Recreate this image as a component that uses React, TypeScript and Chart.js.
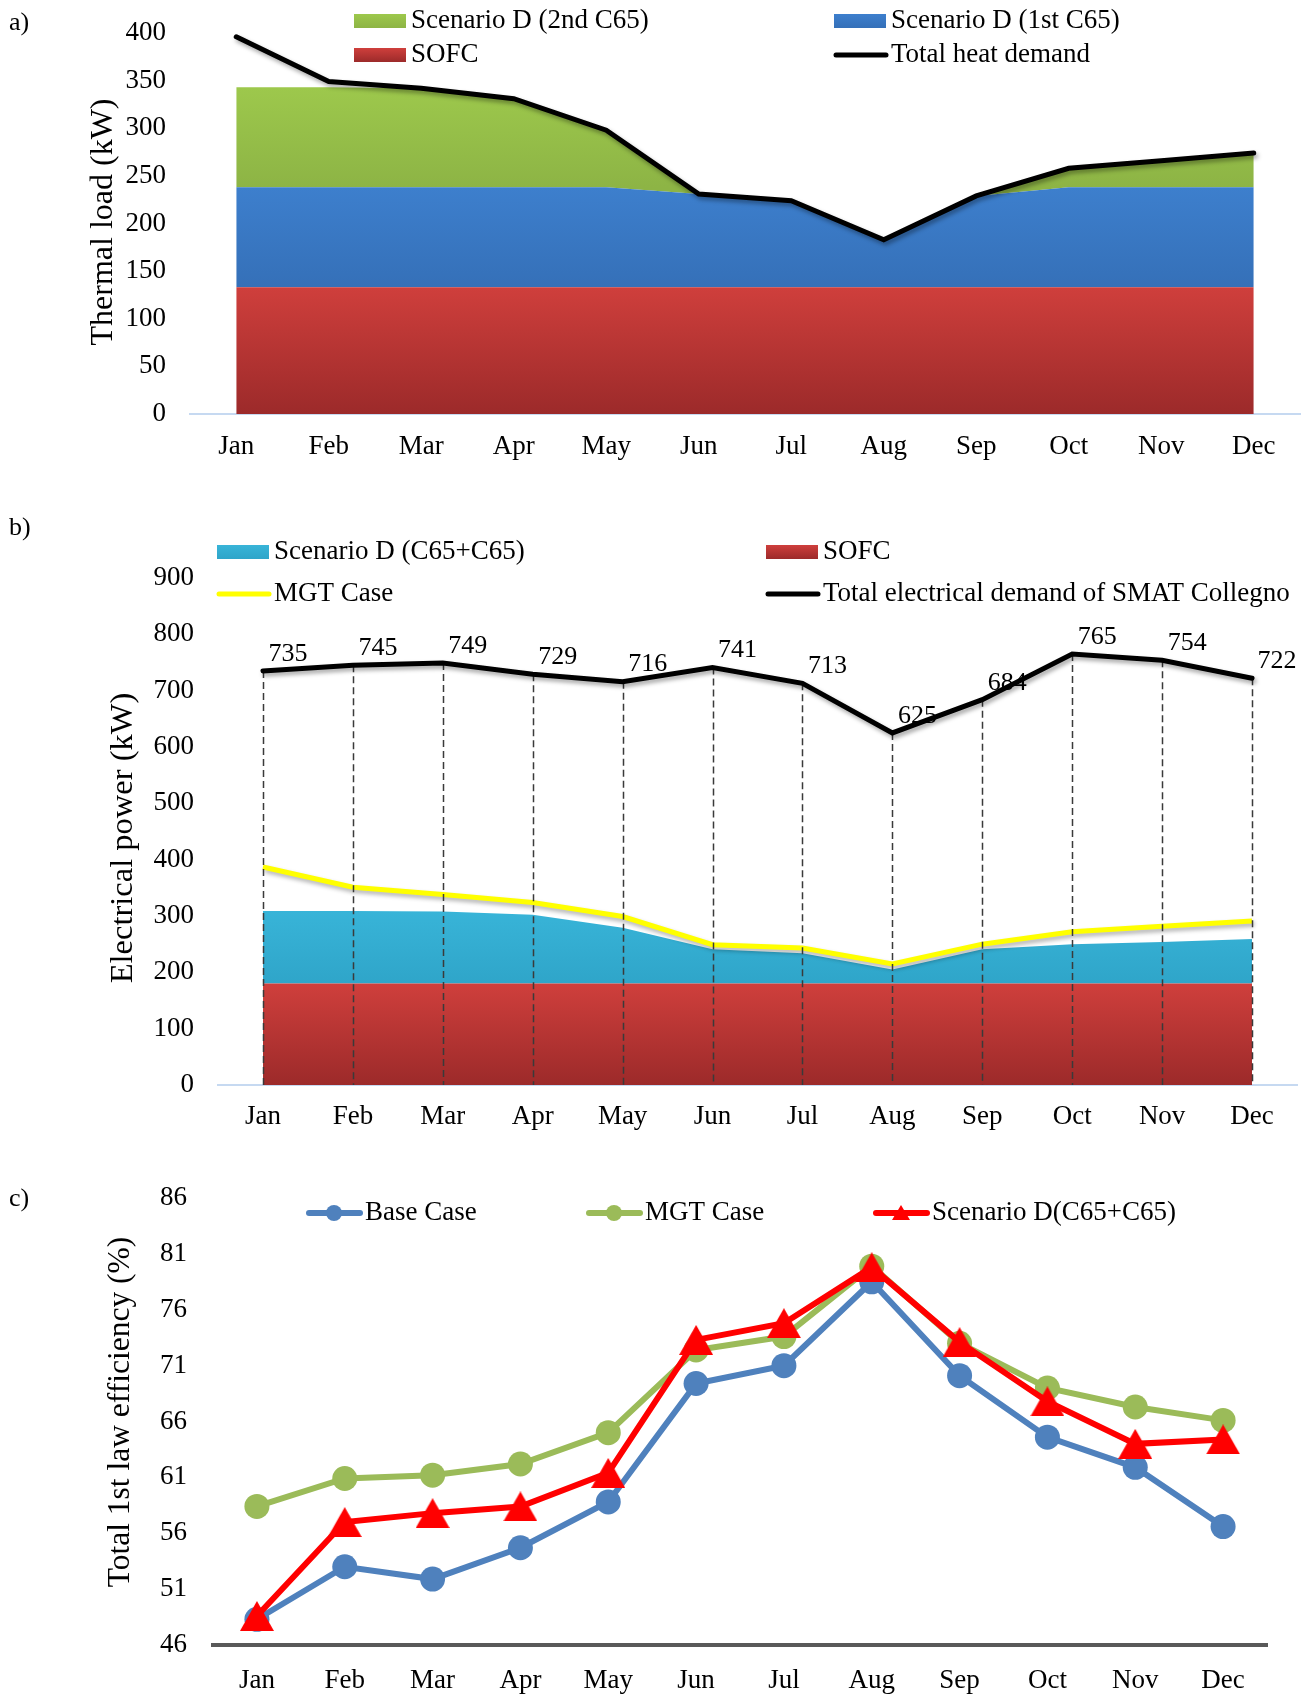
import React, { useEffect, useRef } from "react";
import { Chart, registerables } from "chart.js";

Chart.register(...registerables);

const SERIF = "'Liberation Serif', 'Times New Roman', serif";
const INK = "#000000";

const MONTHS = ["Jan", "Feb", "Mar", "Apr", "May", "Jun", "Jul", "Aug", "Sep", "Oct", "Nov", "Dec"];

// a) Thermal load (kW)
const HEAT_SOFC = [133, 133, 133, 133, 133, 133, 133, 133, 133, 133, 133, 133];
const HEAT_C65_1ST = [105, 105, 105, 105, 105, 98, 91, 50, 96, 105, 105, 105];
const HEAT_C65_2ND = [105, 105, 104, 93, 60, 0, 0, 0, 0, 20, 28, 36];
const HEAT_DEMAND = [396, 349, 342, 331, 298, 231, 224, 183, 229, 258, 266, 274];
const HEAT_AXIS = { min: 0, max: 400, step: 50 };

// b) Electrical power (kW)
const ELEC_SOFC = [180, 180, 180, 180, 180, 180, 180, 180, 180, 180, 180, 180];
const ELEC_C65_PAIR = [129, 129, 128, 122, 99, 61, 54, 25, 61, 70, 74, 79];
const ELEC_MGT = [387, 351, 338, 324, 299, 249, 243, 215, 250, 272, 282, 291];
const ELEC_DEMAND = [735, 745, 749, 729, 716, 741, 713, 625, 684, 765, 754, 722];
const ELEC_AXIS = { min: 0, max: 900, step: 100 };

// c) Total 1st law efficiency (%)
const EFF_BASE = [48.3, 53.0, 51.9, 54.7, 58.8, 69.4, 71.0, 78.5, 70.1, 64.6, 61.9, 56.6];
const EFF_MGT = [58.4, 60.9, 61.2, 62.2, 65.0, 72.4, 73.6, 79.9, 73.0, 69.0, 67.3, 66.1];
const EFF_SCEN_D = [48.6, 57.0, 57.8, 58.4, 61.4, 73.3, 74.8, 79.8, 73.1, 67.8, 64.0, 64.4];
const EFF_AXIS = { min: 46, max: 86, step: 5 };

const RED = { top: "#cf3f3c", bottom: "#9c2a2a" };
const BLUE = { top: "#3d7fcd", bottom: "#3570b8" };
const GREEN = { top: "#9dc84c", bottom: "#8db445" };
const CYAN = { top: "#38b4d8", bottom: "#2fa5c9" };

const WIDTH = 1309;
const TICK_SIZE = 27;
const LEGEND_SIZE = 27;

const sum = (...rows: number[][]) => rows[0].map((_, i) => rows.reduce((s, r) => s + r[i], 0));

// Vertical gradient spanning a stacked band between two value levels
function bandFill(colors: { top: string; bottom: string }, upper: number, lower: number) {
  return (c: any) => {
    const chart = c.chart;
    const y = chart.scales?.y;
    if (!chart.chartArea || !y) return colors.top;
    const g = chart.ctx.createLinearGradient(0, y.getPixelForValue(upper), 0, y.getPixelForValue(lower));
    g.addColorStop(0, colors.top);
    g.addColorStop(1, colors.bottom);
    return g;
  };
}

function triangleImage(w: number, h: number, color: string) {
  const cv = document.createElement("canvas");
  cv.width = w;
  cv.height = h;
  const ctx = cv.getContext("2d")!;
  ctx.fillStyle = color;
  ctx.beginPath();
  ctx.moveTo(w / 2, 0);
  ctx.lineTo(w, h);
  ctx.lineTo(0, h);
  ctx.closePath();
  ctx.fill();
  return cv;
}

type LegendItem =
  | { kind: "band"; x: number; y: number; text: string; colors: { top: string; bottom: string } }
  | { kind: "line"; x: number; y: number; text: string; color: string; width: number }
  | { kind: "marker"; x: number; y: number; text: string; color: string; marker: "circle" | "triangle" };

type AxisTitle = { text: string; x: number; y: number; size: number };

// Panel letter, rotated value-axis title and legend drawn onto the chart canvas
function decorations(letter: string, letterY: number, title: AxisTitle, items: LegendItem[]) {
  return {
    id: "decorations",
    afterDraw(chart: any) {
      const ctx: CanvasRenderingContext2D = chart.ctx;
      ctx.save();
      ctx.fillStyle = INK;
      ctx.textBaseline = "middle";

      ctx.font = `26px ${SERIF}`;
      ctx.textAlign = "left";
      ctx.fillText(letter, 9, letterY);

      ctx.save();
      ctx.translate(title.x, title.y);
      ctx.rotate(-Math.PI / 2);
      ctx.textAlign = "center";
      ctx.font = `${title.size}px ${SERIF}`;
      ctx.fillText(title.text, 0, 0);
      ctx.restore();

      ctx.font = `${LEGEND_SIZE}px ${SERIF}`;
      ctx.textAlign = "left";
      for (const it of items) {
        const sw = 52;
        if (it.kind === "band") {
          const g = ctx.createLinearGradient(0, it.y - 7, 0, it.y + 7);
          g.addColorStop(0, it.colors.top);
          g.addColorStop(1, it.colors.bottom);
          ctx.fillStyle = g;
          ctx.fillRect(it.x, it.y - 7, sw, 14);
        } else if (it.kind === "line") {
          ctx.strokeStyle = it.color;
          ctx.lineWidth = it.width;
          ctx.lineCap = "round";
          ctx.beginPath();
          ctx.moveTo(it.x + 2, it.y);
          ctx.lineTo(it.x + sw, it.y);
          ctx.stroke();
        } else {
          ctx.strokeStyle = it.color;
          ctx.lineWidth = 6;
          ctx.lineCap = "round";
          ctx.beginPath();
          ctx.moveTo(it.x + 3, it.y);
          ctx.lineTo(it.x + 54, it.y);
          ctx.stroke();
          ctx.fillStyle = it.color;
          const cx = it.x + 28;
          if (it.marker === "circle") {
            ctx.beginPath();
            ctx.arc(cx, it.y, 8, 0, Math.PI * 2);
            ctx.fill();
          } else {
            ctx.beginPath();
            ctx.moveTo(cx, it.y - 8);
            ctx.lineTo(cx + 9, it.y + 7);
            ctx.lineTo(cx - 9, it.y + 7);
            ctx.closePath();
            ctx.fill();
          }
        }
        ctx.fillStyle = INK;
        const tx = it.kind === "marker" ? it.x + 59 : it.x + sw + 5;
        ctx.fillText(it.text, tx, it.y);
      }
      ctx.restore();
    },
  };
}

// Soft drop shadow under datasets flagged with shadowColor
const lineShadow = {
  id: "lineShadow",
  beforeDatasetDraw(chart: any, args: any) {
    const ds = chart.data.datasets[args.index];
    if (!ds.shadowColor) return;
    const ctx = chart.ctx;
    ctx.save();
    ctx.shadowColor = ds.shadowColor;
    ctx.shadowBlur = 4;
    ctx.shadowOffsetX = 2;
    ctx.shadowOffsetY = 3;
  },
  afterDatasetDraw(chart: any, args: any) {
    const ds = chart.data.datasets[args.index];
    if (!ds.shadowColor) return;
    chart.ctx.restore();
  },
};

// Dashed drop lines from each demand point down to the category axis
const dropLines = {
  id: "dropLines",
  beforeDatasetDraw(chart: any, args: any) {
    if (args.index !== 0) return;
    const ctx = chart.ctx;
    const bottom = chart.chartArea.bottom;
    ctx.save();
    ctx.strokeStyle = "#3a3a3a";
    ctx.lineWidth = 1.5;
    ctx.setLineDash([7, 4]);
    for (const p of args.meta.data) {
      ctx.beginPath();
      ctx.moveTo(Math.round(p.x) + 0.5, p.y);
      ctx.lineTo(Math.round(p.x) + 0.5, bottom);
      ctx.stroke();
    }
    ctx.restore();
  },
};

// Value labels next to each demand point
const demandLabels = {
  id: "demandLabels",
  afterDatasetsDraw(chart: any) {
    const meta = chart.getDatasetMeta(0);
    const values = chart.data.datasets[0].data;
    const ctx = chart.ctx;
    ctx.save();
    ctx.font = `26px ${SERIF}`;
    ctx.fillStyle = INK;
    ctx.textAlign = "center";
    ctx.textBaseline = "middle";
    meta.data.forEach((p: any, i: number) => ctx.fillText(String(values[i]), p.x + 25, p.y - 17));
    ctx.restore();
  },
};

function xAxis(borderColor: string, borderWidth: number, padding: number, height: number) {
  return {
    type: "category",
    offset: true,
    grid: { display: false, drawTicks: false },
    border: { display: true, color: borderColor, width: borderWidth },
    ticks: { font: { family: SERIF, size: TICK_SIZE }, color: INK, padding, autoSkip: false, maxRotation: 0 },
    afterFit: (s: any) => {
      s.height = height;
      s.paddingLeft = 0;
      s.paddingRight = 0;
    },
  };
}

function yAxis(range: { min: number; max: number; step: number }, width: number, tickPad: number, stacked: boolean) {
  return {
    stacked,
    min: range.min,
    max: range.max,
    grid: { display: false, drawTicks: false },
    border: { display: false },
    ticks: { stepSize: range.step, font: { family: SERIF, size: TICK_SIZE }, color: INK, padding: tickPad },
    afterFit: (s: any) => {
      s.width = width;
      s.paddingTop = 0;
      s.paddingBottom = 0;
    },
  };
}

const baseOptions = {
  animation: false,
  responsive: false,
  devicePixelRatio: 1,
  events: [],
  elements: { line: { tension: 0 }, point: { radius: 0, hoverRadius: 0 } },
};

function thermalConfig(): any {
  const lvl1 = Math.max(...HEAT_SOFC);
  const lvl2 = Math.max(...sum(HEAT_SOFC, HEAT_C65_1ST));
  const lvl3 = Math.max(...sum(HEAT_SOFC, HEAT_C65_1ST, HEAT_C65_2ND));
  return {
    type: "line",
    data: {
      labels: MONTHS,
      datasets: [
        {
          label: "Total heat demand",
          data: HEAT_DEMAND,
          stack: "demand",
          borderColor: "#000",
          borderWidth: 5,
          borderCapStyle: "round",
          fill: false,
          shadowColor: "rgba(0,0,0,0.35)",
        },
        { label: "SOFC", data: HEAT_SOFC, stack: "supply", borderWidth: 0, fill: "origin", backgroundColor: bandFill(RED, lvl1, 0) },
        {
          label: "Scenario D (1st C65)",
          data: HEAT_C65_1ST,
          stack: "supply",
          borderWidth: 0,
          fill: "-1",
          backgroundColor: bandFill(BLUE, lvl2, lvl1),
        },
        {
          label: "Scenario D (2nd C65)",
          data: HEAT_C65_2ND,
          stack: "supply",
          borderWidth: 0,
          fill: "-1",
          backgroundColor: bandFill(GREEN, lvl3, lvl2),
        },
      ],
    },
    options: {
      ...baseOptions,
      layout: { padding: { left: 0, right: 9, top: 33, bottom: 0 }, autoPadding: false },
      plugins: { legend: { display: false }, tooltip: { enabled: false } },
      scales: {
        x: xAxis("#c6d9f1", 2, 17, 66),
        y: yAxis(HEAT_AXIS, 190, 24, true),
      },
    },
    plugins: [
      lineShadow,
      decorations("a)", 23, { text: "Thermal load (kW)", x: 104, y: 222, size: 32 }, [
        { kind: "band", x: 354, y: 21, text: "Scenario D (2nd C65)", colors: GREEN },
        { kind: "band", x: 834, y: 21, text: "Scenario D (1st C65)", colors: BLUE },
        { kind: "band", x: 354, y: 55, text: "SOFC", colors: RED },
        { kind: "line", x: 834, y: 55, text: "Total heat demand", color: "#000", width: 5 },
      ]),
    ],
  };
}

function electricConfig(): any {
  const lvl1 = Math.max(...ELEC_SOFC);
  const lvl2 = Math.max(...sum(ELEC_SOFC, ELEC_C65_PAIR));
  return {
    type: "line",
    data: {
      labels: MONTHS,
      datasets: [
        {
          label: "Total electrical demand of SMAT Collegno",
          data: ELEC_DEMAND,
          stack: "demand",
          borderColor: "#000",
          borderWidth: 5,
          borderCapStyle: "round",
          fill: false,
          shadowColor: "rgba(0,0,0,0.35)",
        },
        {
          label: "MGT Case",
          data: ELEC_MGT,
          stack: "mgt",
          borderColor: "#ffff00",
          borderWidth: 5,
          fill: false,
          shadowColor: "rgba(0,0,0,0.3)",
        },
        { label: "SOFC", data: ELEC_SOFC, stack: "supply", borderWidth: 0, fill: "origin", backgroundColor: bandFill(RED, lvl1, 0) },
        {
          label: "Scenario D (C65+C65)",
          data: ELEC_C65_PAIR,
          stack: "supply",
          borderWidth: 0,
          fill: "-1",
          backgroundColor: bandFill(CYAN, lvl2, lvl1),
        },
      ],
    },
    options: {
      ...baseOptions,
      layout: { padding: { left: 0, right: 12, top: 108, bottom: 0 }, autoPadding: false },
      plugins: { legend: { display: false }, tooltip: { enabled: false } },
      scales: {
        x: xAxis("#c6d9f1", 2, 16, 55),
        y: yAxis(ELEC_AXIS, 218, 24, true),
      },
    },
    plugins: [
      dropLines,
      lineShadow,
      demandLabels,
      decorations("b)", 58, { text: "Electrical power (kW)", x: 123, y: 368, size: 32.5 }, [
        { kind: "band", x: 217, y: 82, text: "Scenario D (C65+C65)", colors: CYAN },
        { kind: "band", x: 766, y: 82, text: "SOFC", colors: RED },
        { kind: "line", x: 217, y: 124, text: "MGT Case", color: "#ffff00", width: 5 },
        { kind: "line", x: 766, y: 124, text: "Total electrical demand of SMAT Collegno", color: "#000", width: 5 },
      ]),
    ],
  };
}

function efficiencyConfig(): any {
  const tri = triangleImage(34, 30, "#ff0000");
  return {
    type: "line",
    data: {
      labels: MONTHS,
      datasets: [
        {
          label: "Scenario D(C65+C65)",
          data: EFF_SCEN_D,
          borderColor: "#ff0000",
          backgroundColor: "#ff0000",
          borderWidth: 6,
          pointStyle: tri,
          pointRadius: 15,
          fill: false,
        },
        {
          label: "MGT Case",
          data: EFF_MGT,
          borderColor: "#9bbb59",
          backgroundColor: "#9bbb59",
          borderWidth: 6,
          pointStyle: "circle",
          pointRadius: 12.5,
          pointBorderWidth: 0,
          fill: false,
        },
        {
          label: "Base Case",
          data: EFF_BASE,
          borderColor: "#4f81bd",
          backgroundColor: "#4f81bd",
          borderWidth: 6,
          pointStyle: "circle",
          pointRadius: 12.5,
          pointBorderWidth: 0,
          fill: false,
        },
      ],
    },
    options: {
      ...baseOptions,
      clip: false,
      layout: { padding: { left: 0, right: 42, top: 58, bottom: 0 }, autoPadding: false },
      plugins: { legend: { display: false }, tooltip: { enabled: false } },
      scales: {
        x: xAxis("#595959", 4, 20, 52),
        y: yAxis(EFF_AXIS, 213, 26, false),
      },
    },
    plugins: [
      decorations("c)", 59, { text: "Total 1st law efficiency (%)", x: 121, y: 272, size: 31.5 }, [
        { kind: "marker", x: 306, y: 73, text: "Base Case", color: "#4f81bd", marker: "circle" },
        { kind: "marker", x: 586, y: 73, text: "MGT Case", color: "#9bbb59", marker: "circle" },
        { kind: "marker", x: 873, y: 73, text: "Scenario D(C65+C65)", color: "#ff0000", marker: "triangle" },
      ]),
    ],
  };
}

function ChartPanel({ top, height, build }: { top: number; height: number; build: () => any }) {
  const ref = useRef<HTMLCanvasElement>(null);
  useEffect(() => {
    const chart = new Chart(ref.current as HTMLCanvasElement, build());
    return () => chart.destroy();
  }, [build]);
  return (
    <canvas
      ref={ref}
      width={WIDTH}
      height={height}
      style={{ position: "absolute", left: 0, top, width: WIDTH, height, display: "block" }}
    />
  );
}

export default function App() {
  return (
    <div style={{ position: "absolute", left: 0, top: 0, width: WIDTH, height: 1697, background: "#ffffff", overflow: "hidden" }}>
      <ChartPanel top={0} height={480} build={thermalConfig} />
      <ChartPanel top={470} height={670} build={electricConfig} />
      <ChartPanel top={1140} height={557} build={efficiencyConfig} />
    </div>
  );
}
